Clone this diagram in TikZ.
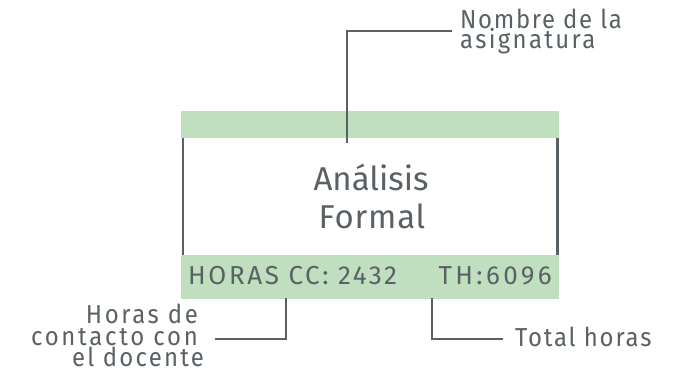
\documentclass[tikz,border=0pt]{standalone}
\usepackage{fontspec}
\setmainfont{Fira Sans}
\newfontfamily\lblfont[FakeStretch=0.92]{Fira Sans}
\usetikzlibrary{calc}
\definecolor{barg}{RGB}{191,223,190}
\definecolor{ink}{RGB}{90,97,101}
\newcommand{\ls}[2]{{\addfontfeature{LetterSpace=#1}#2}}
\begin{document}
\begin{tikzpicture}[x=1pt,y=-1pt,
  conn/.style={draw=ink,line width=2.6pt},
  bar/.style={fill=barg,draw=none,minimum width=378pt,inner sep=0pt},
  txt/.style={text=ink,inner sep=0pt},
  ttl/.style={txt,anchor=base,font=\fontsize{33}{36}\selectfont},
  hdr/.style={txt,font=\fontsize{26}{28}\selectfont},
  lbl/.style={txt,font=\lblfont\fontsize{26}{21}\selectfont}]
\useasboundingbox (0,0) rectangle (685,370);
% bars
\node[bar,minimum height=27pt] (topbar) at (370,124.5) {};
\node[bar,minimum height=44pt] (botbar) at (370,277) {};
% side lines
\draw[conn] ($(topbar.south west)+(2,0)$) -- ($(botbar.north west)+(2,0)$);
\draw[conn] ($(topbar.south east)+(-2,0)$) -- ($(botbar.north east)+(-2,0)$);
% title
\node[ttl] (t1) at (371,190) {Análisis};
\node[ttl] (t2) at (372,228) {\ls{2.5}{Formal}};
% bottom bar texts
\node[hdr,anchor=base west] (hcc) at (188,284) {\ls{10}{HORAS CC: 2432}};
\node[hdr,anchor=base east] (th) at (552,284) {\ls{13}{TH:6096}};
% top label
\node[lbl,anchor=base west] (n1) at (460,28) {\ls{6.5}{Nombre de la}};
\node[lbl,anchor=base west] (n2) at (460,48) {\ls{9}{asignatura}};
\coordinate (tapT) at (347,143);
\draw[conn] (tapT) |- ($(n1.base west)+(-8,3)$);
% bottom left label
\node[lbl,anchor=base east] (h1) at (198,323) {\ls{10}{Horas de}};
\node[lbl,anchor=base east] (h2) at (198,345) {\ls{10.5}{contacto con}};
\node[lbl,anchor=base east] (h3) at (204,366) {\ls{8.5}{el docente}};
\coordinate (tapL) at (286,298);
\draw[conn] (tapL) |- ($(h2.base east)+(17,-6)$);
% bottom right label
\node[lbl,anchor=base west] (total) at (515,346) {\ls{7}{Total horas}};
\coordinate (tapR) at (432,298);
\draw[conn] (tapR) |- ($(total.base west)+(-12,-7)$);
\end{tikzpicture}
\end{document}
